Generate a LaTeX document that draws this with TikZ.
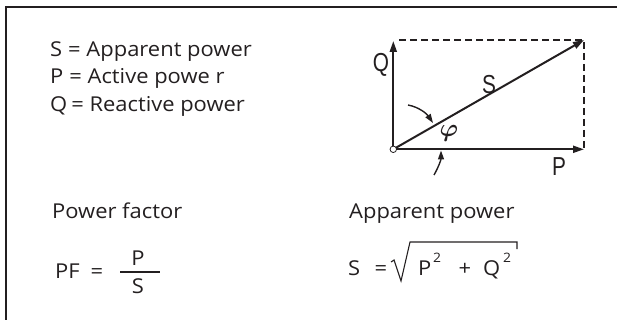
\documentclass[tikz,border=0pt]{standalone}
\usepackage{bm}
\usepackage{fontspec}
\setmainfont{Open Sans}[FakeStretch=1.07]
\newfontfamily\condfont[FakeStretch=0.8]{Liberation Sans}
\usetikzlibrary{arrows.meta}
\definecolor{ink}{HTML}{231F20}
\begin{document}
\begin{tikzpicture}[x=1pt,y=-1pt,
  txt/.style={inner sep=0pt, anchor=base west, font=\fontsize{20.5}{24}\selectfont, text=ink},
  suptxt/.style={inner sep=0pt, anchor=base west, font=\fontsize{13}{16}\selectfont, text=ink},
  lbl/.style={inner sep=0pt, font=\condfont\fontsize{26}{30}\selectfont, text=ink},
  vec/.style={line width=2pt, draw=ink, -{Triangle[length=11pt,width=7pt]}},
  bendarrow/.style={line width=1.4pt, draw=ink, -{Triangle[length=9pt,width=6pt]}},
  frameline/.style={line width=1.6pt, draw=ink},
  thinline/.style={line width=1.1pt, draw=ink},
  dashline/.style={line width=1.2pt, draw=ink, dash pattern=on 7pt off 4pt}
]
\useasboundingbox (0,0) rectangle (617,320);
% frame
\coordinate (fb) at (6,321);
\coordinate (fc) at (6,7);
\coordinate (fr) at (618,7);
\draw[frameline] (fb) -- (fc) -- (fr);

% legend
\node[txt] (s1) at (50,57) {S\hspace{6pt}= Apparent power};
\node[txt] (p1) at (50,84) {P\hspace{6pt}= Active powe r};
\node[txt] (q1) at (50,112) {Q\hspace{4pt}= Reactive power};

% diagram
\coordinate (o) at (393.3,149.3);
\coordinate (qt) at (393.3,41);
\coordinate (pt) at (584,149.3);
\coordinate (st) at (584,40);
\coordinate (ds) at (399,40);
\draw[dashline] (ds) -- (st) -- (pt);
\draw[vec] (o) -- (qt);
\draw[vec] (o) -- (pt);
\draw[vec] (o) -- (st);
\node[circle, draw=ink, fill=white, inner sep=0pt, minimum size=6.5pt, line width=0.8pt] (oc) at (o) {};

\node[lbl] (ql) at (381,65) {Q};
\node[lbl] (sl) at (489,85) {S};
\node[lbl] (pl) at (559,167) {P};
\node[inner sep=0pt, text=ink, font=\fontsize{26}{30}\selectfont] (phi) at (449,133) {$\bm{\varphi}$};

\coordinate (a1s) at (408,105);
\coordinate (a1e) at (433,123);
\coordinate (a2s) at (434,175);
\coordinate (a2e) at (441,150.5);
\draw[bendarrow] (a1s) .. controls (419,107) and (427,114) .. (a1e);
\draw[bendarrow] (a2s) .. controls (438,168) and (441,160) .. (a2e);

% power factor
\node[txt] (pfh) at (52,218) {Power factor};
\node[txt] (pf) at (55,278) {PF};
\node[txt, anchor=base] (eq1) at (97,278) {=};
\coordinate (fb1) at (120,272);
\coordinate (fb2) at (160,272);
\draw[thinline] (fb1) -- (fb2);
\node[txt, anchor=base] (num) at (138,265) {P};
\node[txt, anchor=base] (den) at (138,293) {S};

% apparent power
\node[txt] (aph) at (349,218) {Apparent power};
\node[txt] (s2) at (348,275) {S};
\node[txt, anchor=base] (eq2) at (381,275) {=};
\coordinate (r1) at (391,262);
\coordinate (r2) at (394,260);
\coordinate (r3) at (401,281);
\coordinate (r4) at (410,242);
\coordinate (r5) at (517,242);
\coordinate (r6) at (517,249);
\draw[thinline, line join=miter] (r1) -- (r2) -- (r3) -- (r4) -- (r5) -- (r6);
\node[txt] (p2) at (418,275) {P};
\node[suptxt] (e1) at (433,262) {2};
\node[txt, anchor=base] (plus) at (465,275) {+};
\node[txt] (q2) at (483,275) {Q};
\node[suptxt] (e2) at (503,262) {2};
\end{tikzpicture}
\end{document}
